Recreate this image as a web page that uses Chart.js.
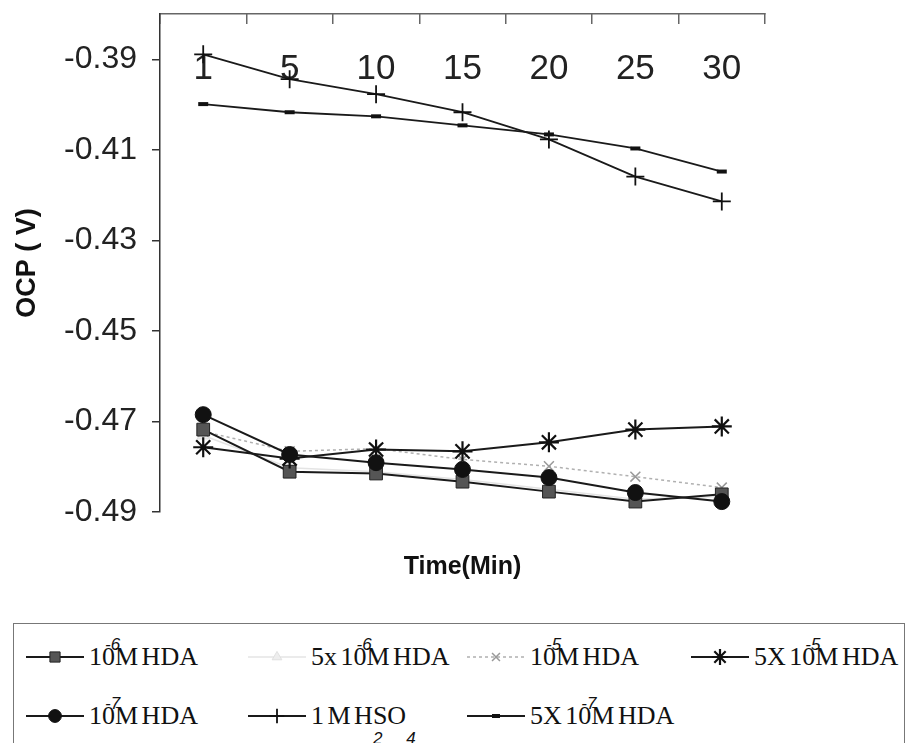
<!DOCTYPE html>
<html>
<head>
<meta charset="utf-8">
<script src="https://cdn.jsdelivr.net/npm/chart.js@4.4.1/dist/chart.umd.min.js"></script>
<style>
html,body{margin:0;padding:0;background:#fff;width:907px;height:743px;overflow:hidden;}
#wrap{position:relative;width:907px;height:743px;}
#c{position:absolute;left:0;top:0;}
#legend{position:absolute;left:13px;top:623px;width:892px;height:140px;border:1px solid #777;box-sizing:border-box;
  font-family:'Liberation Serif','Times New Roman',serif;font-size:26px;color:#111;}
.item{position:absolute;height:30px;white-space:nowrap;}
.item canvas{position:absolute;left:0;top:5px;}
.item .t{position:absolute;left:63px;top:0;line-height:30px;word-spacing:-3px;}
.sup{display:inline-block;width:0;position:relative;top:-15px;left:-10px;font-size:17px;font-style:italic;font-family:'Liberation Sans',sans-serif;}
.sub{display:inline-block;width:0;position:relative;top:20px;left:0px;font-size:17px;font-style:italic;font-family:'Liberation Sans',sans-serif;}
</style>
</head>
<body>
<div id="wrap">
  <canvas id="c" width="907" height="600"></canvas>
  <div id="legend"></div>
</div>
<script>
// ---- data ----
const categories = ['1', '5', '10', '15', '20', '25', '30'];
const yTickValues = [-0.49, -0.47, -0.45, -0.43, -0.41, -0.39];
const seriesNames = ['10⁻⁶M HDA', '5x 10⁻⁶M HDA', '10⁻⁵M HDA', '5X 10⁻⁵M HDA', '10⁻⁷M HDA', '1 M H₂SO₄', '5X 10⁻⁷M HDA'];
const hda1e6 = [-0.4718, -0.4811, -0.4815, -0.4833, -0.4855, -0.4877, -0.4861];
const hda5e6 = [-0.4731, -0.4802, -0.4811, -0.4828, -0.4850, -0.4872, -0.4866];
const hda1e5 = [-0.4722, -0.4766, -0.4760, -0.4784, -0.4799, -0.4822, -0.4846];
const hda5e5 = [-0.4757, -0.4782, -0.4762, -0.4766, -0.4746, -0.4718, -0.4711];
const hda1e7 = [-0.4685, -0.4773, -0.4791, -0.4806, -0.4824, -0.4857, -0.4877];
const h2so4  = [-0.3889, -0.3944, -0.3977, -0.4017, -0.4077, -0.4159, -0.4214];
const hda5e7 = [-0.3999, -0.4017, -0.4026, -0.4046, -0.4066, -0.4097, -0.4148];

const seriesData = [hda1e6, hda5e6, hda1e5, hda5e5, hda1e7, h2so4, hda5e7];

// ---- styles ----
const seriesStyles = [
  {line:'#1a1a1a', width:2,   dash:[],    style:'rect',     r:9,  fill:'#555', stroke:'#222', bw:1,   order:2},
  {line:'#e4e4e4', width:1.5, dash:[],    style:'triangle', r:7,  fill:'#eee', stroke:'#e0e0e0', bw:1, order:6},
  {line:'#b0b0b0', width:1.5, dash:[3,3], style:'crossRot', r:7,  fill:'#999', stroke:'#999', bw:1.5, order:5},
  {line:'#1a1a1a', width:2,   dash:[],    style:'star',     r:10, fill:'#111', stroke:'#111', bw:2.2, order:1},
  {line:'#1a1a1a', width:2,   dash:[],    style:'circle',   r:8,  fill:'#111', stroke:'#111', bw:1,   order:0},
  {line:'#1a1a1a', width:1.8, dash:[],    style:'cross',    r:9,  fill:'#111', stroke:'#111', bw:1.8, order:3},
  {line:'#1a1a1a', width:1.8, dash:[],    style:'line',     r:5,  fill:'#111', stroke:'#111', bw:4,   order:4}
];

const FONT = "'Liberation Sans', Arial, sans-serif";

const datasets = seriesNames.map((name, i) => {
  const s = seriesStyles[i];
  return {
    label: name,
    data: seriesData[i],
    borderColor: s.line,
    borderWidth: s.width,
    borderDash: s.dash,
    tension: 0,
    fill: false,
    pointStyle: s.style,
    pointRadius: s.r,
    pointBackgroundColor: s.fill,
    pointBorderColor: s.stroke,
    pointBorderWidth: s.bw,
    order: s.order
  };
});

const chart = new Chart(document.getElementById('c'), {
  type: 'line',
  data: { labels: categories, datasets },
  options: {
    responsive: false,
    animation: false,
    devicePixelRatio: 1,
    layout: { padding: { left: 0, right: 142, top: 0, bottom: 0 } },
    plugins: { legend: { display: false }, tooltip: { enabled: false } },
    scales: {
      x: {
        type: 'category',
        position: 'top',
        offset: true,
        grid: { offset: true, drawOnChartArea: false, drawTicks: true, tickLength: -10, color: '#666', lineWidth: 1.5 },
        border: { display: true, color: '#666', width: 1.5 },
        ticks: { font: { family: FONT, size: 35 }, color: '#222', mirror: true, padding: 34, maxRotation: 0, autoSkip: false },
        afterFit(s) { s.height = 14; s.paddingLeft = 0; s.paddingRight = 0; }
      },
      x2: {
        type: 'category',
        position: 'bottom',
        offset: true,
        grid: { display: false },
        border: { display: false },
        ticks: { display: false },
        title: { display: true, text: 'Time(Min)', color: '#111', font: { family: FONT, size: 25, weight: 'bold' }, padding: { top: 0, bottom: 18 } },
        afterFit(s) { s.height = 88; s.paddingLeft = 0; s.paddingRight = 0; }
      },
      y: {
        type: 'linear',
        position: 'left',
        min: -0.49,
        max: -0.38,
        afterBuildTicks(s) { s.ticks = yTickValues.map(v => ({ value: v })); },
        grid: { drawOnChartArea: false, drawTicks: true, tickLength: 8, color: '#333', lineWidth: 1.5 },
        border: { display: true, color: '#333', width: 1.5 },
        ticks: { font: { family: FONT, size: 32 }, color: '#222', padding: 15, callback: v => Number(v).toFixed(2) },
        title: { display: true, text: 'OCP ( V)', color: '#111', font: { family: FONT, size: 27, weight: 'bold' }, padding: { top: 11, bottom: 0 } },
        afterFit(s) { s.width = 160; s.paddingTop = 0; s.paddingBottom = 0; }
      }
    }
  }
});

// ---- HTML legend built from the chart's datasets ----
const supMap = {'⁻':'-','⁰':'0','¹':'1','²':'2','³':'3','⁴':'4','⁵':'5','⁶':'6','⁷':'7','⁸':'8','⁹':'9'};
const subMap = {'₀':'0','₁':'1','₂':'2','₃':'3','₄':'4','₅':'5','₆':'6','₇':'7','₈':'8','₉':'9'};
function labelHtml(s) {
  return s.replace(/[⁻⁰¹²³⁴⁵⁶⁷⁸⁹]+/g, m => '<span class="sup">' + [...m].map(c => supMap[c]).join('') + '</span>')
          .replace(/[₀₁₂₃₄₅₆₇₈₉]/g, m => '<span class="sub">' + subMap[m] + '</span>');
}
const legendCols = [12, 234, 453, 677];
const legendRows = [18, 77];
const legendEl = document.getElementById('legend');
chart.data.datasets.forEach((ds, i) => {
  const item = document.createElement('div');
  item.className = 'item';
  item.style.left = legendCols[i % 4] + 'px';
  item.style.top = legendRows[i < 4 ? 0 : 1] + 'px';
  const cv = document.createElement('canvas');
  cv.width = 58; cv.height = 20;
  const ctx = cv.getContext('2d');
  ctx.strokeStyle = ds.borderColor;
  ctx.lineWidth = ds.borderWidth;
  ctx.setLineDash(ds.borderDash || []);
  ctx.beginPath(); ctx.moveTo(0, 10); ctx.lineTo(58, 10); ctx.stroke();
  ctx.setLineDash([]);
  ctx.fillStyle = ds.pointBackgroundColor;
  ctx.strokeStyle = ds.pointBorderColor;
  ctx.lineWidth = ds.pointBorderWidth;
  Chart.helpers.drawPoint(ctx, { pointStyle: ds.pointStyle, radius: ds.pointRadius * 0.8, borderWidth: ds.pointBorderWidth, rotation: 0 }, 29, 10);
  item.appendChild(cv);
  const t = document.createElement('span');
  t.className = 't';
  t.innerHTML = labelHtml(ds.label);
  item.appendChild(t);
  legendEl.appendChild(item);
});
</script>
</body>
</html>
